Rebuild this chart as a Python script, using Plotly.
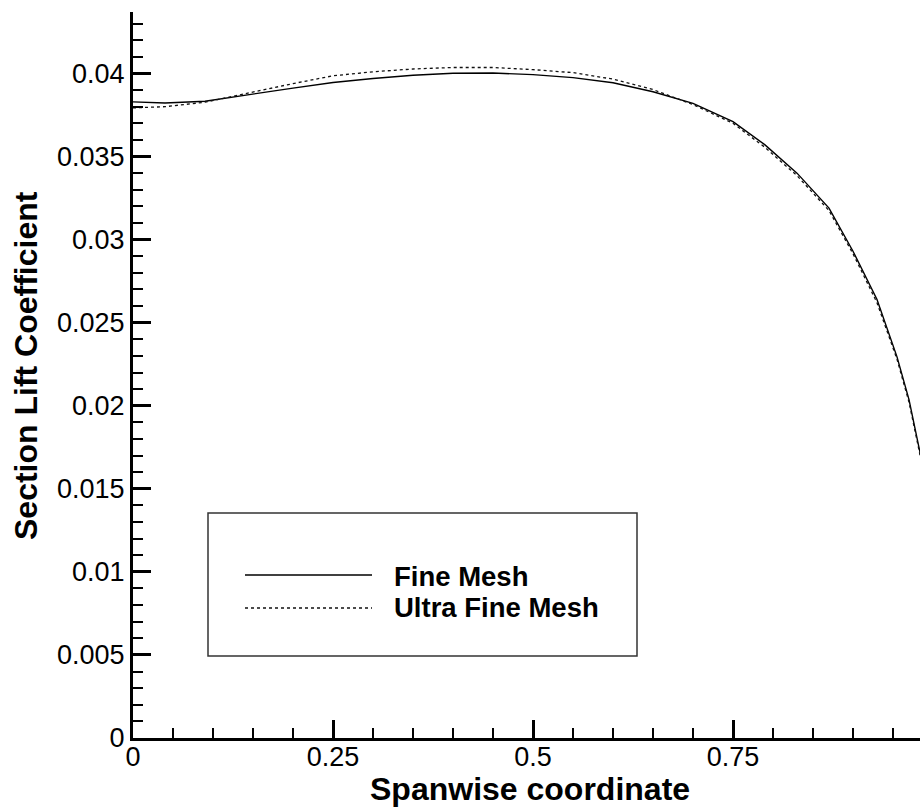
import plotly.graph_objects as go

# ---- data ----
span = [0, 0.04, 0.09, 0.15, 0.2, 0.25, 0.3, 0.35, 0.4, 0.45, 0.5, 0.55, 0.6,
        0.65, 0.7, 0.75, 0.79, 0.83, 0.87, 0.9, 0.93, 0.955, 0.97, 0.985]
fine_mesh = [0.03829, 0.03822, 0.03833, 0.03878, 0.03912, 0.03946, 0.03970, 0.03989,
             0.04001, 0.04003, 0.03993, 0.03975, 0.03944, 0.03890, 0.03820, 0.03710,
             0.03570, 0.03400, 0.03190, 0.02930, 0.02640, 0.02294, 0.02037, 0.01690]
ultra_fine_mesh = [0.03793, 0.03800, 0.03827, 0.03890, 0.03939, 0.03986, 0.04010, 0.04027,
                   0.04036, 0.04036, 0.04023, 0.04005, 0.03966, 0.03903, 0.03813, 0.03700,
                   0.03555, 0.03385, 0.03175, 0.02915, 0.02620, 0.02280, 0.02022, 0.01675]

x_tickvals = [0, 0.25, 0.5, 0.75]
x_ticktext = ["0", "0.25", "0.5", "0.75"]
y_tickvals = [0, 0.005, 0.01, 0.015, 0.02, 0.025, 0.03, 0.035, 0.04]
y_ticktext = ["0", "0.005", "0.01", "0.015", "0.02", "0.025", "0.03", "0.035", "0.04"]

series_names = ["Fine Mesh", "Ultra Fine Mesh"]
x_title = "Spanwise coordinate"
y_title = "Section Lift Coefficient"

# ---- layout geometry (pixels) ----
W, H = 920, 810
L, R, T, B = 133, 0, 12, 72
PW, PH = W - L - R, H - T - B
FONT = "Liberation Sans, Arial, Helvetica, sans-serif"


def px(xp):
    return (xp - L) / PW


def py(yp):
    return (H - B - yp) / PH


fig = go.Figure()
fig.add_trace(go.Scatter(x=span, y=fine_mesh, mode="lines", name=series_names[0],
                         line=dict(color="#000000", width=1.4), showlegend=False))
fig.add_trace(go.Scatter(x=span, y=ultra_fine_mesh, mode="lines", name=series_names[1],
                         line=dict(color="#111111", width=1.3, dash="dot"), showlegend=False))

axis_common = dict(
    showgrid=False, zeroline=False, showline=True, linecolor="black", linewidth=3,
    ticks="inside", ticklen=18, tickwidth=3, tickcolor="black",
    tickfont=dict(family=FONT, size=27, color="black"),
)

fig.update_xaxes(range=[0, PW / 800.0], tickvals=x_tickvals, ticktext=x_ticktext,
                 ticklabelstandoff=-7,
                 minor=dict(ticks="inside", ticklen=10, tickwidth=1.5, tickcolor="black", dtick=0.05),
                 **axis_common)
fig.update_yaxes(range=[0, 0.0437], tickvals=y_tickvals, ticktext=y_ticktext,
                 minor=dict(ticks="inside", ticklen=10, tickwidth=1.5, tickcolor="black", dtick=0.001),
                 **axis_common)

# legend drawn manually
shapes = [
    dict(type="rect", xref="paper", yref="paper", x0=px(208), x1=px(637), y0=py(656), y1=py(513),
         line=dict(color="#333333", width=1.5), fillcolor="white", layer="above"),
    dict(type="line", xref="paper", yref="paper", x0=px(245), x1=px(372), y0=py(575), y1=py(575),
         line=dict(color="#000000", width=1.4)),
    dict(type="line", xref="paper", yref="paper", x0=px(245), x1=px(372), y0=py(608), y1=py(608),
         line=dict(color="#111111", width=1.3, dash="dot")),
]
annotations = [
    dict(text="<b>%s</b>" % series_names[0], xref="paper", yref="paper", x=px(392), y=py(576),
         xanchor="left", yanchor="middle", showarrow=False,
         font=dict(family=FONT, size=27.5, color="black")),
    dict(text="<b>%s</b>" % series_names[1], xref="paper", yref="paper", x=px(392), y=py(607),
         xanchor="left", yanchor="middle", showarrow=False,
         font=dict(family=FONT, size=27.5, color="black")),
    dict(text="<b>%s</b>" % x_title, xref="paper", yref="paper", x=px(530), y=py(789),
         xanchor="center", yanchor="middle", showarrow=False,
         font=dict(family=FONT, size=32, color="black")),
    dict(text="<b>%s</b>" % y_title, xref="paper", yref="paper", x=px(26), y=py(366),
         xanchor="center", yanchor="middle", showarrow=False, textangle=-90,
         font=dict(family=FONT, size=32, color="black")),
]

fig.update_layout(
    width=W, height=H,
    margin=dict(l=L, r=R, t=T, b=B),
    paper_bgcolor="white", plot_bgcolor="white",
    showlegend=False,
    shapes=shapes, annotations=annotations,
)

fig.write_html("out.html")
